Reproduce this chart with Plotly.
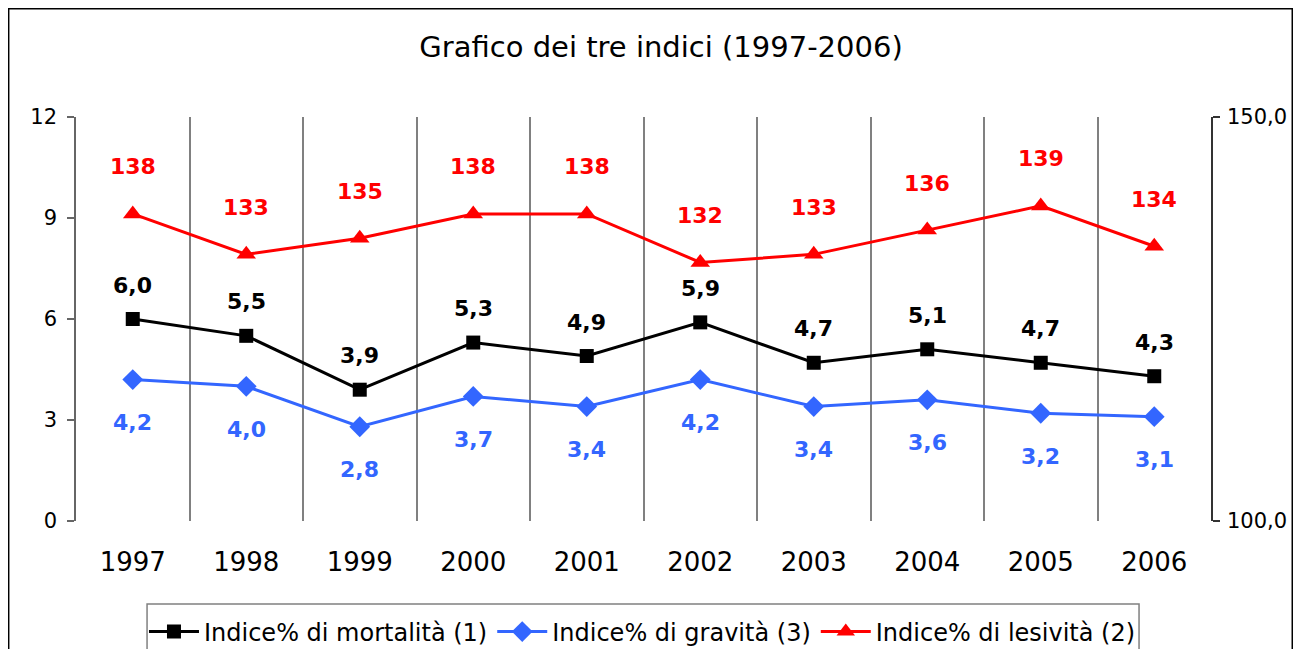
import plotly.graph_objects as go

years = ["1997", "1998", "1999", "2000", "2001", "2002", "2003", "2004", "2005", "2006"]
mortalita = [6.0, 5.5, 3.9, 5.3, 4.9, 5.9, 4.7, 5.1, 4.7, 4.3]
gravita = [4.2, 4.0, 2.8, 3.7, 3.4, 4.2, 3.4, 3.6, 3.2, 3.1]
lesivita = [138, 133, 135, 138, 138, 132, 133, 136, 139, 134]
left_ticks = [0, 3, 6, 9, 12]
right_ticks = [100, 150]

FONT = "DejaVu Sans"
BLACK = "#000000"
BLUE = "#3366FF"
RED = "#FF0000"

fig = go.Figure()
fig.add_trace(go.Scatter(x=years, y=mortalita, name="Indice% di mortalità (1)", mode="lines+markers",
                         line=dict(color=BLACK, width=3), marker=dict(symbol="square", size=14, color=BLACK),
                         hoverinfo="skip"))
fig.add_trace(go.Scatter(x=years, y=gravita, name="Indice% di gravità (3)", mode="lines+markers",
                         line=dict(color=BLUE, width=3), marker=dict(symbol="diamond", size=16, color=BLUE),
                         hoverinfo="skip"))
fig.add_trace(go.Scatter(x=years, y=lesivita, name="Indice% di lesività (2)", mode="lines+markers",
                         line=dict(color=RED, width=3), marker=dict(symbol="triangle-up", size=17, color=RED),
                         yaxis="y2", hoverinfo="skip"))

annotations = []
for i, v in enumerate(mortalita):
    annotations.append(dict(x=i, y=v, xref="x", yref="y", text="<b>" + f"{v:.1f}".replace(".", ",") + "</b>",
                            showarrow=False, yshift=34, font=dict(family=FONT, size=22, color=BLACK)))
for i, v in enumerate(gravita):
    annotations.append(dict(x=i, y=v, xref="x", yref="y", text="<b>" + f"{v:.1f}".replace(".", ",") + "</b>",
                            showarrow=False, yshift=-43, font=dict(family=FONT, size=22, color=BLUE)))
for i, v in enumerate(lesivita):
    annotations.append(dict(x=i, y=v, xref="x", yref="y2", text="<b>" + str(v) + "</b>",
                            showarrow=False, yshift=47, font=dict(family=FONT, size=22, color=RED)))

fig.update_layout(
    width=1285, height=641,
    margin=dict(l=68, r=82, t=109, b=128, autoexpand=False),
    paper_bgcolor="white", plot_bgcolor="white",
    separators=",.",
    font=dict(family=FONT, size=21, color=BLACK),
    title=dict(text="Grafico dei tre indici (1997-2006)", x=0.5082, xanchor="center", y=0.9392, yanchor="middle",
               font=dict(family=FONT, size=29, color=BLACK)),
    xaxis=dict(type="category", showgrid=True, gridcolor="#808080", gridwidth=1.5, tickson="boundaries",
               ticks="", showline=False, zeroline=False, tickfont=dict(size=26), ticklabelstandoff=23,
               range=[-0.5, 9.5], automargin=False),
    yaxis=dict(range=[0, 12], tickvals=left_ticks, showgrid=False, zeroline=False, showline=True,
               linecolor="#666666", linewidth=1.5, ticks="outside", ticklen=7, tickcolor="#666666",
               tickwidth=1.5, ticklabelstandoff=6, tickfont=dict(size=21), automargin=False),
    yaxis2=dict(range=[100, 150], tickvals=right_ticks, tickformat=".1f", overlaying="y", side="right",
                showgrid=False, zeroline=False, showline=True, linecolor="#333333", linewidth=1.5,
                ticks="outside", ticklen=7, tickcolor="#333333", tickwidth=1.5, ticklabelstandoff=3,
                tickfont=dict(size=21), automargin=False),
    legend=dict(orientation="h", x=0.4991, xanchor="center", y=-0.2748, yanchor="middle",
                borderwidth=0, bgcolor="rgba(0,0,0,0)",
                font=dict(family=FONT, size=24, color=BLACK), itemwidth=50, tracegroupgap=0),
    showlegend=True,
    annotations=annotations,
    shapes=[
        dict(type="rect", xref="paper", yref="paper", x0=-0.0593, x1=1.0716, y0=-0.5, y1=1.2679,
             line=dict(color=BLACK, width=1.5), fillcolor="rgba(0,0,0,0)", layer="below"),
        dict(type="rect", xref="paper", yref="paper", x0=0.0626, x1=0.9366, y0=-0.45, y1=-0.2054,
             line=dict(color="#808080", width=1.5), fillcolor="white", layer="below"),
    ],
)

fig.write_html("out.html")
